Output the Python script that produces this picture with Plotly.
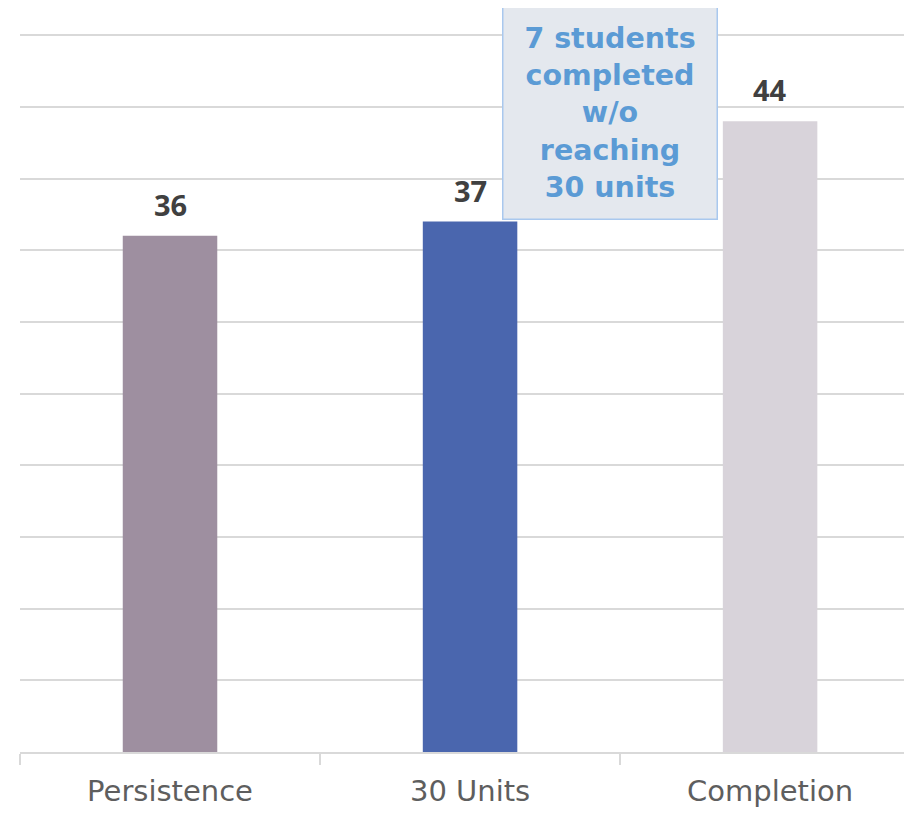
import plotly.graph_objects as go

categories = ["Persistence", "30 Units", "Completion"]
values = [36, 37, 44]
bar_colors = ["#9e8fa0", "#4a66ae", "#d8d3da"]
note_text = "7 students<br>completed<br>w/o<br>reaching<br>30 units"

fig = go.Figure()
fig.add_trace(go.Bar(
    x=categories, y=values, marker_color=bar_colors, width=0.315,
    marker_line_width=0, hoverinfo="skip",
))

for c, v in zip(categories, values):
    fig.add_annotation(
        x=c, y=v, xref="x", yref="y", text="<b>%d</b>" % v, showarrow=False,
        yanchor="bottom", yshift=10,
        font=dict(family="Open Sans", size=29, color="#404040"),
    )

fig.add_annotation(
    x=1.468, y=44.56, xref="x", yref="y", text="<b>" + note_text + "</b>",
    showarrow=False, xanchor="center", yanchor="middle",
    width=209, height=207, align="center", valign="middle",
    bgcolor="#e4e8ee", bordercolor="#a9c8ee", borderwidth=1.5, borderpad=2,
    font=dict(family="DejaVu Sans", size=28.5, color="#5b9bd5"),
)

fig.update_layout(
    width=904, height=799,
    margin=dict(l=12, r=0, t=25, b=55, autoexpand=False),
    plot_bgcolor="white", paper_bgcolor="white",
    showlegend=False,
    xaxis=dict(
        range=[-0.5, 2.473], tickson="boundaries", ticks="outside",
        ticklen=11, tickwidth=1.5, tickcolor="#d9d9d9",
        showline=True, linecolor="#d9d9d9", linewidth=2,
        showgrid=False, ticklabelstandoff=12, automargin=False,
        tickfont=dict(family="DejaVu Sans", size=29, color="#5e5e5e"),
    ),
    yaxis=dict(
        range=[0, 50.15], dtick=5, showticklabels=False,
        showgrid=True, gridcolor="#d9d9d9", gridwidth=1.5,
        zeroline=False, showline=False, automargin=False,
    ),
)

fig.write_html("out.html")
